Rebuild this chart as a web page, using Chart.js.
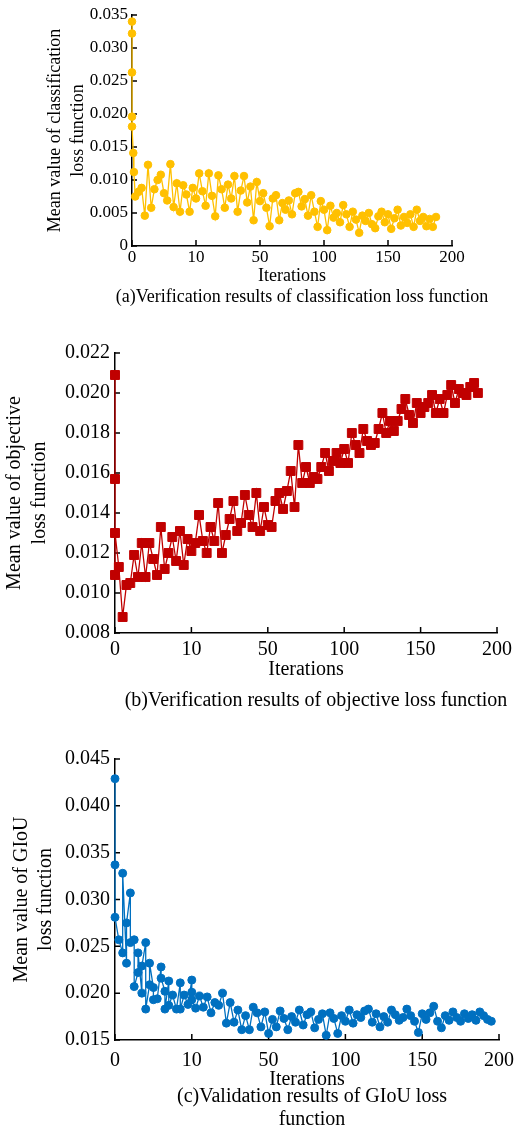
<!DOCTYPE html>
<html>
<head>
<meta charset="utf-8">
<script src="https://cdn.jsdelivr.net/npm/chart.js@4.4.1/dist/chart.umd.min.js"></script>
<style>
  body { margin: 0; background: #fff; }
  #page { position: relative; width: 525px; height: 1132px; overflow: hidden; font-family: 'Liberation Serif', 'Times New Roman', serif; color: #000; }
  canvas { position: absolute; left: 0; }
  .caption { position: absolute; white-space: nowrap; transform: translateX(-50%); text-align: center; }
</style>
</head>
<body>
<div id="page">
  <canvas id="clsChart" width="525" height="288" style="top:0px"></canvas>
  <div class="caption" style="left:302px; top:286px; font-size:18px; line-height:20px">(a)Verification results of classification loss function</div>

  <canvas id="objChart" width="525" height="360" style="top:330px"></canvas>
  <div class="caption" style="left:316px; top:688px; font-size:20px; line-height:22px">(b)Verification results of objective loss function</div>

  <canvas id="giouChart" width="525" height="355" style="top:740px"></canvas>
  <div class="caption" style="left:312px; top:1084px; font-size:20px; line-height:23px">(c)Validation results of GIoU loss<br>function</div>
</div>

<script>
// x axis: ticks are evenly spaced, but the values between them are not
const xTickValues = [0, 10, 50, 100, 150, 200];

// (a) classification loss
const clsIter = [0, 0, 0, 0, 0, 0.2, 0.3,
  0.5, 1, 1.5, 2, 2.5, 3, 3.5, 4, 4.5, 5, 5.5, 6, 6.5, 7, 7.5, 8, 8.5, 9, 9.5, 10,
  12, 14, 16, 18, 20, 22, 24, 26, 28, 30, 32, 34, 36, 38, 40, 42, 44, 46, 48, 50,
  52.5, 55, 57.5, 60, 62.5, 65, 67.5, 70, 72.5, 75, 77.5, 80, 82.5, 85, 87.5, 90, 92.5, 95, 97.5, 100,
  102.5, 105, 107.5, 110, 112.5, 115, 117.5, 120, 122.5, 125, 127.5, 130, 132.5, 135, 137.5, 140, 142.5, 145, 147.5, 150,
  152.5, 155, 157.5, 160, 162.5, 165, 167.5, 170, 172.5, 175, 177.5, 180, 182.5, 185, 187.5];
const clsLoss = [0.0340, 0.0322, 0.0263, 0.0196, 0.0181, 0.0141, 0.0112,
  0.0075, 0.0082, 0.0088, 0.0046, 0.0123, 0.0058, 0.0086, 0.0100, 0.0108, 0.0080, 0.0069, 0.0124, 0.0059, 0.0095, 0.0052, 0.0092, 0.0078, 0.0052, 0.0088, 0.0072,
  0.0110, 0.0083, 0.0061, 0.0110, 0.0076, 0.0045, 0.0107, 0.0086, 0.0058, 0.0093, 0.0072, 0.0106, 0.0052, 0.0084, 0.0106, 0.0066, 0.0090, 0.0039, 0.0097, 0.0068,
  0.0080, 0.0058, 0.0030, 0.0072, 0.0077, 0.0039, 0.0065, 0.0055, 0.0069, 0.0048, 0.0080, 0.0082, 0.0060, 0.0071, 0.0046, 0.0077, 0.0052, 0.0029, 0.0068, 0.0055,
  0.0024, 0.0061, 0.0043, 0.0050, 0.0036, 0.0062, 0.0048, 0.0029, 0.0052, 0.0040, 0.0020, 0.0046, 0.0038, 0.0050, 0.0033, 0.0027, 0.0045, 0.0052, 0.0036, 0.0048,
  0.0026, 0.0042, 0.0055, 0.0031, 0.0044, 0.0035, 0.0048, 0.0029, 0.0055, 0.0038, 0.0044, 0.0030, 0.0041, 0.0029, 0.0044];

// (b) objective loss
const objIter = [0, 0, 0, 0, 0.5, 1, 1.5,
  2, 2.5, 3, 3.5, 4, 4.5, 5, 5.5, 6, 6.5, 7, 7.5, 8, 8.5, 9, 9.5, 10,
  12, 14, 16, 18, 20, 22, 24, 26, 28, 30, 32, 34, 36, 38, 40, 42, 44, 46, 48, 50,
  52.5, 55, 57.5, 60, 62.5, 65, 67.5, 70, 72.5, 75, 77.5, 80, 82.5, 85, 87.5, 90, 92.5, 95, 97.5, 100,
  102.5, 105, 107.5, 110, 112.5, 115, 117.5, 120, 122.5, 125, 127.5, 130, 132.5, 135, 137.5, 140, 142.5, 145, 147.5, 150,
  152.5, 155, 157.5, 160, 162.5, 165, 167.5, 170, 172.5, 175, 177.5, 180, 182.5, 185, 187.5];
const objLoss = [0.0109, 0.0209, 0.0157, 0.0130, 0.0113, 0.0088, 0.0104,
  0.0105, 0.0119, 0.0108, 0.0125, 0.0108, 0.0125, 0.0117, 0.0109, 0.0133, 0.0112, 0.0120, 0.0128, 0.0116, 0.0131, 0.0114, 0.0127, 0.0121,
  0.0125, 0.0139, 0.0126, 0.0120, 0.0133, 0.0126, 0.0145, 0.0120, 0.0129, 0.0137, 0.0146, 0.0131, 0.0135, 0.0149, 0.0139, 0.0133, 0.0150, 0.0131, 0.0143, 0.0134,
  0.0133, 0.0146, 0.0150, 0.0142, 0.0151, 0.0161, 0.0143, 0.0174, 0.0155, 0.0163, 0.0155, 0.0158, 0.0157, 0.0163, 0.0170, 0.0161, 0.0166, 0.0170, 0.0165, 0.0172,
  0.0165, 0.0180, 0.0174, 0.0170, 0.0182, 0.0176, 0.0174, 0.0175, 0.0182, 0.0190, 0.0180, 0.0186, 0.0181, 0.0186, 0.0192, 0.0197, 0.0189, 0.0185, 0.0195, 0.0190,
  0.0193, 0.0195, 0.0199, 0.0190, 0.0197, 0.0190, 0.0199, 0.0204, 0.0195, 0.0202, 0.0200, 0.0199, 0.0203, 0.0205, 0.0200];

// (c) GIoU loss
const giouIter = [0, 0, 0, 0.5, 1, 1, 1.5, 1.5, 2, 2, 2.5, 2.5, 3, 3, 3.5, 3.5, 4, 4, 4.5, 4.5,
  5, 5, 5.5, 6, 6, 6.5, 6.5, 7, 7, 7.5, 8, 8.5, 8.5, 9, 9.5, 10, 10, 10,
  12, 14, 16, 18, 20, 22, 24, 26, 28, 30, 32, 34, 36, 38, 40, 42, 44, 46, 48, 50,
  52.5, 55, 57.5, 60, 62.5, 65, 67.5, 70, 72.5, 75, 77.5, 80, 82.5, 85, 87.5, 90, 92.5, 95, 97.5, 100,
  102.5, 105, 107.5, 110, 112.5, 115, 117.5, 120, 122.5, 125, 127.5, 130, 132.5, 135, 137.5, 140, 142.5, 145, 147.5, 150,
  152.5, 155, 157.5, 160, 162.5, 165, 167.5, 170, 172.5, 175, 177.5, 180, 182.5, 185, 187.5, 190, 192.5, 195];
const giouLoss = [0.0429, 0.0337, 0.0281, 0.0257, 0.0243, 0.0328, 0.0232, 0.0275, 0.0307, 0.0254, 0.0257, 0.0207, 0.0222, 0.0243, 0.0200, 0.0229, 0.0254, 0.0183, 0.0209, 0.0232,
  0.0206, 0.0193, 0.0194, 0.0228, 0.0216, 0.0202, 0.0183, 0.0213, 0.0187, 0.0198, 0.0183, 0.0211, 0.0183, 0.0198, 0.0188, 0.0214, 0.0201, 0.0193,
  0.0184, 0.0197, 0.0185, 0.0196, 0.0179, 0.0190, 0.0187, 0.0200, 0.0168, 0.0190, 0.0169, 0.0182, 0.0161, 0.0176, 0.0161, 0.0185, 0.0179, 0.0164, 0.0180, 0.0157,
  0.0172, 0.0164, 0.0181, 0.0173, 0.0161, 0.0175, 0.0169, 0.0182, 0.0166, 0.0177, 0.0180, 0.0163, 0.0172, 0.0178, 0.0155, 0.0179, 0.0173, 0.0157, 0.0176, 0.0170,
  0.0182, 0.0168, 0.0177, 0.0174, 0.0181, 0.0183, 0.0169, 0.0178, 0.0164, 0.0175, 0.0169, 0.0182, 0.0177, 0.0171, 0.0174, 0.0183, 0.0176, 0.0170, 0.0158, 0.0178,
  0.0172, 0.0179, 0.0186, 0.0170, 0.0163, 0.0176, 0.0171, 0.0180, 0.0174, 0.0170, 0.0178, 0.0173, 0.0177, 0.0171, 0.0180, 0.0176, 0.0172, 0.0170];

const FONT = "'Liberation Serif', 'Times New Roman', serif";
Chart.defaults.font.family = FONT;
Chart.defaults.color = '#000';

// linear scale where each gap between xTickValues gets the same width
class BrokenAxis extends Chart.LinearScale {
  static id = 'broken';
  getPixelForValue(value) {
    const bp = xTickValues;
    const n = bp.length - 1;
    let i = 0;
    while (i < n - 1 && value > bp[i + 1]) i++;
    const frac = (i + (value - bp[i]) / (bp[i + 1] - bp[i])) / n;
    return this.getPixelForDecimal(frac);
  }
}
Chart.register(BrokenAxis);

// tick marks pointing into the plot
const innerTicks = {
  id: 'innerTicks',
  beforeDatasetsDraw(chart) {
    const { ctx, scales: { x, y } } = chart;
    ctx.save();
    ctx.strokeStyle = '#000';
    ctx.lineWidth = 1.5;
    ctx.beginPath();
    x.ticks.forEach((t, i) => {
      const px = x.getPixelForTick(i);
      ctx.moveTo(px, x.top);
      ctx.lineTo(px, x.top - 6);
    });
    y.ticks.forEach((t, i) => {
      const py = y.getPixelForTick(i);
      ctx.moveTo(y.right, py);
      ctx.lineTo(y.right + 5, py);
    });
    ctx.stroke();
    ctx.restore();
  }
};

function makePanel(id, p) {
  const points = p.iter.map((v, i) => ({ x: v, y: p.loss[i] }));
  return new Chart(document.getElementById(id), {
    type: 'line',
    data: {
      datasets: [{
        data: points,
        borderColor: p.color,
        backgroundColor: p.color,
        borderWidth: 1.3,
        pointStyle: p.pointStyle,
        pointRadius: p.pointRadius,
        pointBorderWidth: 1,
        pointBackgroundColor: p.color,
        pointBorderColor: p.color,
        tension: 0,
        clip: false
      }]
    },
    options: {
      responsive: false,
      animation: false,
      events: [],
      layout: { padding: { top: p.padTop, right: p.padRight, left: 0, bottom: 0 } },
      plugins: { legend: { display: false }, tooltip: { enabled: false } },
      scales: {
        x: {
          type: 'broken',
          min: 0,
          max: 200,
          grid: { display: false, drawTicks: false },
          border: { display: true, color: '#000', width: 1.5 },
          afterBuildTicks: scale => { scale.ticks = xTickValues.map(v => ({ value: v })); },
          afterFit: scale => { scale.height = p.xHeight; },
          ticks: {
            autoSkip: false, maxRotation: 0, padding: p.xTickPad,
            font: { size: p.tickSize },
            callback: v => String(v)
          },
          title: {
            display: true, text: 'Iterations',
            font: { size: p.titleSize, lineHeight: 1 },
            padding: { top: 0, bottom: p.xTitlePad }
          }
        },
        y: {
          min: p.yMin,
          max: p.yMax,
          grid: { display: false, drawTicks: false },
          border: { display: true, color: '#000', width: 1.5 },
          afterFit: scale => { scale.width = p.yWidth; },
          ticks: {
            stepSize: p.yStep, autoSkip: false, padding: p.yTickPad,
            font: { size: p.tickSize },
            callback: v => Math.abs(v) < 1e-9 ? '0' : v.toFixed(3)
          },
          title: {
            display: true, text: p.yTitle,
            font: { size: p.titleSize, lineHeight: p.yTitleLine },
            padding: { top: p.yTitlePad, bottom: 0 }
          }
        }
      }
    },
    plugins: [innerTicks]
  });
}

makePanel('clsChart', {
  iter: clsIter, loss: clsLoss, color: '#FFC000', pointStyle: 'circle', pointRadius: 3.8,
  padTop: 15, padRight: 73, xHeight: 42, yWidth: 132,
  tickSize: 17, titleSize: 18, xTickPad: 1, xTitlePad: 3, yTickPad: 4,
  yMin: 0, yMax: 0.035, yStep: 0.005,
  yTitle: ['Mean value of classification', 'loss function'], yTitleLine: 1.28, yTitlePad: 43.5
});

makePanel('objChart', {
  iter: objIter, loss: objLoss, color: '#C00000', pointStyle: 'rect', pointRadius: 6.3,
  padTop: 23, padRight: 28, xHeight: 57, yWidth: 115,
  tickSize: 20, titleSize: 20, xTickPad: 5, xTitlePad: 10.5, yTickPad: 5,
  yMin: 0.008, yMax: 0.022, yStep: 0.002,
  yTitle: ['Mean value of objective', 'loss function'], yTitleLine: 1.25, yTitlePad: 2.5
});

makePanel('giouChart', {
  iter: giouIter, loss: giouLoss, color: '#0070C0', pointStyle: 'circle', pointRadius: 4,
  padTop: 19, padRight: 26, xHeight: 55, yWidth: 115,
  tickSize: 20, titleSize: 20, xTickPad: 9, xTitlePad: 5, yTickPad: 5,
  yMin: 0.015, yMax: 0.045, yStep: 0.005,
  yTitle: ['Mean value of GIoU', 'loss function'], yTitleLine: 1.2, yTitlePad: 10
});
</script>
</body>
</html>
